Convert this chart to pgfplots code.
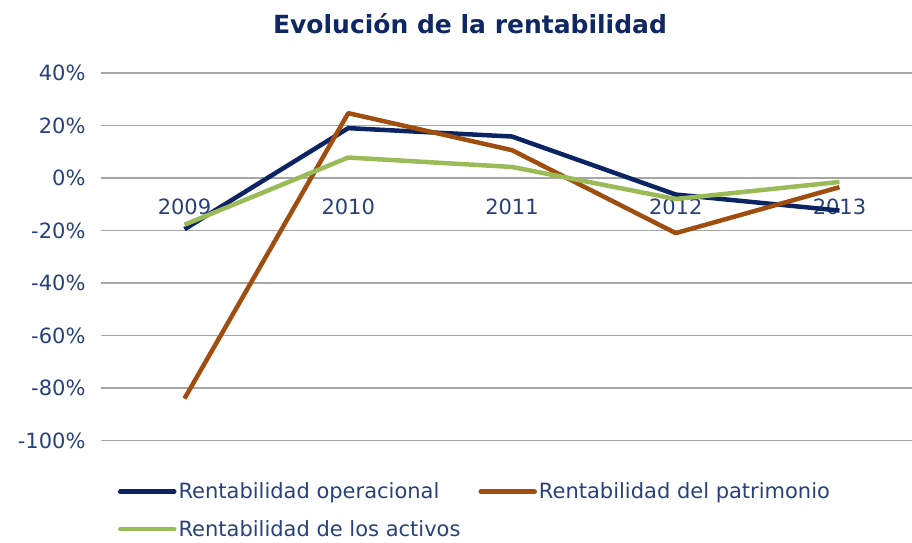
\documentclass[border=0pt]{standalone}
\usepackage{fontspec}
\setmainfont{DejaVu Sans}
\usepackage{pgfplots}
\pgfplotsset{compat=1.18}
\definecolor{navyline}{RGB}{12,36,100}
\definecolor{brownline}{RGB}{160,78,16}
\definecolor{greenline}{RGB}{155,187,89}
\definecolor{titlecol}{RGB}{15,40,100}
\definecolor{labcol}{RGB}{40,65,125}
\definecolor{gridcol}{RGB}{166,166,166}
\begin{document}
\begin{tikzpicture}
\useasboundingbox (0,0) rectangle (912pt,542pt);
\node[anchor=base, text=titlecol, font=\fontsize{25}{30}\selectfont\bfseries] at (470pt,508pt) {Evolución de la rentabilidad};
\begin{axis}[
  at={(101pt,101.5pt)}, anchor=south west,
  scale only axis, width=811pt, height=367.5pt,
  xmin=-0.51, xmax=4.443, ymin=-100, ymax=40,
  axis x line*=middle, axis y line*=left,
  axis line style={draw=none},
  major tick length=0pt,
  xtick={0,1,2,3,4}, xticklabels={2009,2010,2011,2012,2013},
  ytick={-100,-80,-60,-40,-20,0,20,40},
  yticklabels={-100\%,-80\%,-60\%,-40\%,-20\%,0\%,20\%,40\%},
  ymajorgrids, grid style={gridcol, line width=1.3pt},
  tick label style={text=labcol, font=\fontsize{21}{25}\selectfont},
  x tick label style={anchor=north, yshift=-17pt},
  y tick label style={anchor=east, xshift=-12pt},
  clip=false,
  legend columns=2,
  legend cell align=left,
  legend style={draw=none, fill=none, inner sep=0pt, outer sep=0pt,
    at={(0.021,-0.11)}, anchor=north west,
    font=\fontsize{21}{25}\selectfont, text=labcol,
    nodes={inner sep=2pt},
    row sep=16pt,
    /tikz/every even column/.append style={column sep=16pt}},
  legend image code/.code={\draw[#1, line width=4.5pt, line cap=round] (0pt,0pt) -- (54pt,0pt);},
  every axis plot/.append style={line width=4.5pt, line join=round},
]
\addplot[navyline] coordinates {(0,-19.5) (1,19) (2,15.8) (3,-6.3) (4,-12.4)};
\addplot[brownline] coordinates {(0,-84) (1,24.7) (2,10.6) (3,-21) (4,-3.5)};
\addplot[greenline] coordinates {(0,-17.8) (1,7.8) (2,4.2) (3,-8) (4,-1.5)};
\legend{Rentabilidad operacional, Rentabilidad del patrimonio, Rentabilidad de los activos}
\end{axis}
\end{tikzpicture}
\end{document}
